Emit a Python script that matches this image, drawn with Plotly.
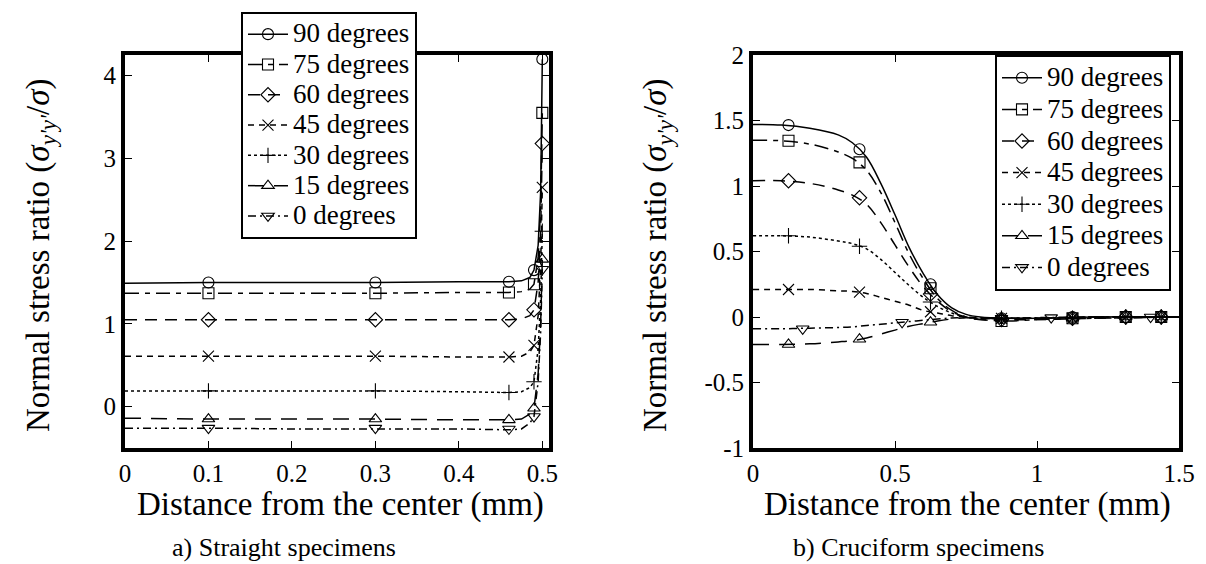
import plotly.graph_objects as go

FONT = "Liberation Serif, Times New Roman, serif"

# ---------------- series definitions ----------------
names = ["90 degrees", "75 degrees", "60 degrees", "45 degrees", "30 degrees", "15 degrees", "0 degrees"]
symbols = ["circle-open", "square-open", "diamond-open", "x-thin-open", "cross-thin-open",
           "triangle-up-open", "triangle-down-open"]
dashes = ["solid", "14px,6px,5px,6px", "12px,8px", "6px,5px", "3px,3px", "16px,10px", "8px,4px,2px,4px"]

# ---------------- a) straight specimens ----------------
a_x = [0, 0.1, 0.2, 0.3, 0.4, 0.46, 0.475, 0.485, 0.49, 0.495, 0.498, 0.5]
a_90 = [1.49, 1.50, 1.50, 1.50, 1.51, 1.51, 1.52, 1.56, 1.65, 1.95, 2.60, 4.20]
a_75 = [1.37, 1.37, 1.37, 1.37, 1.38, 1.38, 1.39, 1.42, 1.48, 1.80, 2.40, 3.55]
a_60 = [1.05, 1.05, 1.05, 1.05, 1.05, 1.05, 1.06, 1.10, 1.17, 1.50, 2.10, 3.18]
a_45 = [0.61, 0.61, 0.61, 0.61, 0.60, 0.60, 0.61, 0.66, 0.74, 1.10, 1.70, 2.65]
a_30 = [0.19, 0.19, 0.19, 0.19, 0.18, 0.17, 0.18, 0.23, 0.30, 0.70, 1.30, 2.12]
a_15 = [-0.14, -0.15, -0.15, -0.15, -0.16, -0.16, -0.15, -0.09, -0.02, 0.40, 1.00, 1.78]
a_0 = [-0.26, -0.26, -0.27, -0.27, -0.27, -0.28, -0.27, -0.20, -0.12, 0.30, 0.90, 1.66]

a_mx = [0.1, 0.3, 0.46, 0.49, 0.5]
a_m90 = [1.50, 1.50, 1.51, 1.65, 4.20]
a_m75 = [1.37, 1.37, 1.38, 1.48, 3.55]
a_m60 = [1.05, 1.05, 1.05, 1.17, 3.18]
a_m45 = [0.61, 0.61, 0.60, 0.74, 2.65]
a_m30 = [0.19, 0.19, 0.17, 0.30, 2.12]
a_m15 = [-0.15, -0.15, -0.16, -0.02, 1.78]
a_m0 = [-0.26, -0.26, -0.27, -0.12, 1.66]

a_xticks = [0, 0.1, 0.2, 0.3, 0.4, 0.5]
a_xticktext = ["0", "0.1", "0.2", "0.3", "0.4", "0.5"]
a_yticks = [0, 1, 2, 3, 4]

# ---------------- b) cruciform specimens ----------------
b_x = [0, 0.1, 0.2, 0.3, 0.35, 0.4, 0.45, 0.5, 0.55, 0.6, 0.65, 0.7, 0.75, 0.8, 0.9, 1.0, 1.2, 1.5]
b_90 = [1.47, 1.465, 1.44, 1.39, 1.33, 1.22, 1.02, 0.78, 0.53, 0.33, 0.17, 0.07, 0.02, 0.0, -0.01, -0.01, 0.0, 0.0]
b_75 = [1.35, 1.345, 1.32, 1.26, 1.21, 1.12, 0.95, 0.72, 0.48, 0.29, 0.14, 0.05, 0.0, -0.02, -0.03, -0.02, -0.01, 0.0]
b_60 = [1.04, 1.04, 1.02, 0.97, 0.93, 0.86, 0.72, 0.55, 0.38, 0.23, 0.12, 0.04, 0.0, -0.02, -0.02, -0.02, -0.01, 0.0]
b_45 = [0.21, 0.21, 0.21, 0.20, 0.195, 0.18, 0.15, 0.12, 0.09, 0.05, 0.03, 0.01, 0.0, -0.01, -0.01, -0.01, 0.0, 0.0]
b_30 = [0.62, 0.62, 0.61, 0.58, 0.56, 0.52, 0.44, 0.34, 0.24, 0.15, 0.08, 0.03, 0.0, -0.01, -0.01, -0.01, 0.0, 0.0]
b_15 = [-0.21, -0.21, -0.205, -0.19, -0.18, -0.16, -0.13, -0.10, -0.07, -0.05, -0.03, -0.015, -0.005, -0.01, -0.01, -0.01, 0.0, 0.0]
b_0 = [-0.09, -0.09, -0.085, -0.08, -0.075, -0.065, -0.055, -0.045, -0.035, -0.025, -0.015, -0.008, -0.003, -0.005, -0.01, -0.005, 0.0, 0.0]

b_mx = [0.125, 0.375, 0.625, 0.875, 1.125, 1.3125, 1.4375]
b_m90 = [1.465, 1.28, 0.25, -0.01, 0.0, 0.0, 0.0]
b_m75 = [1.345, 1.18, 0.22, -0.03, -0.01, 0.0, 0.0]
b_m60 = [1.04, 0.91, 0.175, -0.02, -0.01, 0.0, 0.0]
b_m45 = [0.21, 0.19, 0.04, -0.01, -0.01, 0.0, 0.0]
b_m30 = [0.62, 0.54, 0.115, -0.01, -0.01, 0.0, 0.0]
b_m15 = [-0.21, -0.17, -0.04, -0.01, -0.01, 0.0, 0.0]
b_m0x = [0.175, 0.525, 0.875, 1.05, 1.4]
b_m0 = [-0.09, -0.04, -0.01, -0.005, 0.0]

b_xticks = [0, 0.5, 1, 1.5]
b_xticktext = ["0", "0.5", "1", "1.5"]
b_yticks = [-1, -0.5, 0, 0.5, 1, 1.5, 2]
b_yticktext = ["-1", "-0.5", "0", "0.5", "1", "1.5", "2"]

a_lines = [a_90, a_75, a_60, a_45, a_30, a_15, a_0]
a_marks = [a_m90, a_m75, a_m60, a_m45, a_m30, a_m15, a_m0]
b_lines = [b_90, b_75, b_60, b_45, b_30, b_15, b_0]
b_marks = [b_m90, b_m75, b_m60, b_m45, b_m30, b_m15, b_m0]
b_markx = [b_mx] * 6 + [b_m0x]

fig = go.Figure()

MSIZE = 11


def add_series(xl, yl, xm, ym, i, xa, ya, legend, shape, legsize):
    line = dict(color="black", width=1.5, dash=dashes[i], shape=shape)
    marker = dict(symbol=symbols[i], size=MSIZE, color="black", line=dict(color="black", width=1.1))
    fig.add_trace(go.Scatter(x=xl, y=yl, mode="lines", line=line, xaxis=xa, yaxis=ya,
                             showlegend=False, hoverinfo="skip"))
    fig.add_trace(go.Scatter(x=xm, y=ym, mode="markers", marker=marker, xaxis=xa, yaxis=ya,
                             showlegend=False))
    fig.add_trace(go.Scatter(x=[None], y=[None], mode="lines+markers", line=line, marker=marker,
                             xaxis=xa, yaxis=ya, legend=legend,
                             name='<span style="font-size:%dpx">%s</span>' % (legsize, names[i])))


for i in range(7):
    add_series(a_x, a_lines[i], a_mx, a_marks[i], i, "x", "y", "legend", "linear", 27)
for i in range(7):
    add_series(b_x, b_lines[i], b_markx[i], b_marks[i], i, "x2", "y2", "legend2", "spline", 27)

W, H = 1206, 564
axis_common = dict(showline=True, linewidth=4, linecolor="black", mirror="ticks", ticks="inside",
                   ticklen=7, tickwidth=1, tickcolor="black", showgrid=False, zeroline=False,
                   automargin=False,
                   tickfont=dict(family=FONT, size=25, color="black"))

fig.update_layout(
    width=W, height=H,
    margin=dict(l=0, r=0, t=0, b=0, autoexpand=False),
    paper_bgcolor="white", plot_bgcolor="white",
    font=dict(family=FONT, color="black"),
    xaxis=dict(domain=[117 / W, 541 / W], range=[0, 0.508], tickvals=a_xticks, ticktext=a_xticktext,
               anchor="y", **axis_common),
    yaxis=dict(domain=[1 - 440 / H, 1 - 47 / H], range=[-0.5, 4.25], tickvals=a_yticks,
               anchor="x", **axis_common),
    xaxis2=dict(domain=[745 / W, 1171 / W], range=[0, 1.5], tickvals=b_xticks, ticktext=b_xticktext,
                anchor="y2", **axis_common),
    yaxis2=dict(domain=[1 - 440 / H, 1 - 47 / H], range=[-1, 2], tickvals=b_yticks, ticktext=b_yticktext,
                anchor="x2", **axis_common),
    legend=dict(x=233 / W, y=1 - 4 / H, xanchor="left", yanchor="top", bgcolor="white",
                bordercolor="black", borderwidth=2, itemwidth=40, tracegroupgap=0,
                font=dict(family=FONT, size=21, color="black")),
    legend2=dict(x=987 / W, y=1 - 47 / H, xanchor="left", yanchor="top", bgcolor="white",
                 bordercolor="black", borderwidth=2, itemwidth=40, tracegroupgap=0,
                 font=dict(family=FONT, size=22, color="black")),
)

ytitle = "Normal stress ratio (<i>σ</i><sub><i>y'y'</i></sub>/<i>σ</i>)"
xtitle = "Distance from the center (mm)"
ann = [
    dict(x=33 / W, y=1 - 248 / H, text=ytitle, textangle=-90, font=dict(size=33)),
    dict(x=650 / W, y=1 - 248 / H, text=ytitle, textangle=-90, font=dict(size=33)),
    dict(x=332 / W, y=1 - 496 / H, text=xtitle, font=dict(size=33)),
    dict(x=959 / W, y=1 - 496 / H, text=xtitle, font=dict(size=33)),
    dict(x=276 / W, y=1 - 539 / H, text="a) Straight specimens", font=dict(size=26)),
    dict(x=910 / W, y=1 - 539 / H, text="b) Cruciform specimens", font=dict(size=26)),
]
for a in ann:
    a.update(xref="paper", yref="paper", showarrow=False, xanchor="center", yanchor="middle")
    a["font"].update(family=FONT, color="black")
fig.update_layout(annotations=ann)

fig.write_html("out.html")
